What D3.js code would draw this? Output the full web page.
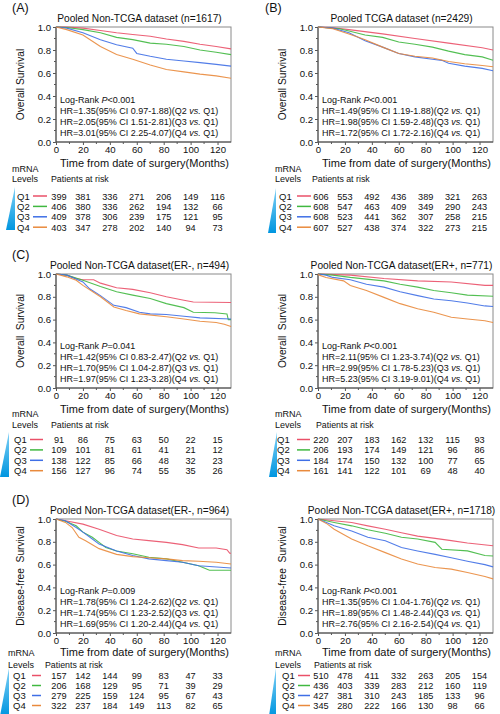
<!DOCTYPE html>
<html><head><meta charset="utf-8">
<script src="https://cdn.jsdelivr.net/npm/d3@7"></script>
<style>
body{margin:0;background:#fff}
svg{display:block}
text{font-family:"Liberation Sans",Arial,Helvetica,sans-serif;fill:#111}
</style>
</head><body>
<svg id="c" width="500" height="714"></svg>
<script>
// ---------- data ----------
const timeTicks = [0,20,40,60,80,100,120];
const survTicks = [0,0.2,0.4,0.6,0.8,1.0];
const groups = ["Q1","Q2","Q3","Q4"];

// Panel A  Pooled Non-TCGA (n=1617)  [months, survival]
const A_Q1 = [[0,1],[8,1.0],[20,0.99],[33,0.97],[45,0.95],[57,0.935],[70,0.92],[82,0.895],[95,0.875],[107,0.85],[119,0.83],[130,0.81]];
const A_Q2 = [[0,1],[8,0.995],[20,0.977],[33,0.95],[45,0.91],[57,0.89],[70,0.86],[82,0.85],[95,0.83],[107,0.80],[119,0.78],[130,0.76]];
const A_Q3 = [[0,1],[8,0.99],[20,0.95],[33,0.89],[45,0.845],[57,0.815],[60,0.77],[70,0.745],[82,0.72],[95,0.705],[107,0.69],[119,0.675],[130,0.66]];
const A_Q4 = [[0,1],[8,0.977],[20,0.93],[33,0.83],[45,0.76],[57,0.72],[70,0.67],[82,0.63],[95,0.61],[107,0.59],[119,0.575],[130,0.555]];
const A_risk_Q1 = [399,381,336,271,206,149,116];
const A_risk_Q2 = [406,380,336,262,194,132,66];
const A_risk_Q3 = [409,378,306,239,175,121,95];
const A_risk_Q4 = [403,347,278,202,140,94,73];
const A_hr = ["1.35","2.05","3.01"];
const A_ci = ["0.97-1.88","1.51-2.81","2.25-4.07"];

// Panel B  Pooled TCGA (n=2429)
const B_Q1 = [[0,1],[10,0.995],[23,0.977],[48,0.94],[72,0.90],[97,0.86],[122,0.82],[130,0.80]];
const B_Q2 = [[0,1],[16,0.985],[23,0.965],[35,0.93],[48,0.91],[60,0.87],[72,0.85],[85,0.825],[97,0.79],[109,0.76],[122,0.74],[130,0.71]];
const B_Q3 = [[0,1],[11,0.99],[23,0.95],[35,0.88],[48,0.825],[60,0.77],[72,0.74],[85,0.72],[92,0.71],[97,0.685],[109,0.66],[122,0.64],[130,0.62]];
const B_Q4 = [[0,1],[11,0.985],[23,0.94],[30,0.91],[35,0.89],[48,0.825],[60,0.77],[72,0.745],[85,0.73],[97,0.70],[109,0.68],[122,0.665],[130,0.655]];
const B_risk_Q1 = [606,553,492,436,389,321,263];
const B_risk_Q2 = [608,547,463,409,349,290,243];
const B_risk_Q3 = [608,523,441,362,307,258,215];
const B_risk_Q4 = [607,527,438,374,322,273,215];
const B_hr = ["1.49","1.98","1.72"];
const B_ci = ["1.19-1.88","1.59-2.48","1.72-2.16"];

// Panel C  ER- (n=494)
const C_Q1 = [[0,1],[8,0.99],[15,0.96],[20,0.95],[28,0.95],[33,0.92],[45,0.88],[57,0.865],[70,0.835],[82,0.80],[95,0.77],[102,0.755],[130,0.75]];
const C_Q2 = [[0,1],[8,0.99],[20,0.945],[33,0.89],[45,0.845],[57,0.815],[70,0.785],[82,0.74],[95,0.705],[102,0.665],[118,0.66],[127,0.65],[128,0.60],[130,0.60]];
const C_Q3 = [[0,1],[8,0.99],[20,0.93],[25,0.87],[33,0.81],[43,0.725],[52,0.705],[62,0.665],[70,0.65],[82,0.645],[95,0.63],[107,0.615],[130,0.605]];
const C_Q4 = [[0,1],[8,0.975],[15,0.945],[20,0.90],[33,0.80],[43,0.71],[52,0.68],[62,0.65],[82,0.625],[95,0.605],[107,0.585],[119,0.575],[125,0.56],[130,0.54]];
const C_risk_Q1 = [91,86,75,63,50,22,15];
const C_risk_Q2 = [109,101,81,61,41,21,12];
const C_risk_Q3 = [138,122,85,66,48,32,23];
const C_risk_Q4 = [156,127,96,74,55,35,26];
const C_hr = ["1.42","1.70","1.97"];
const C_ci = ["0.83-2.47","1.04-2.87","1.23-3.28"];

// Panel C right  ER+ (n=771)
const E_Q1 = [[0,1],[24,0.99],[49,0.96],[74,0.94],[99,0.93],[124,0.90],[130,0.90]];
const E_Q2 = [[0,1],[11,0.99],[24,0.97],[36,0.955],[49,0.94],[61,0.91],[74,0.885],[86,0.855],[99,0.835],[111,0.815],[130,0.805]];
const E_Q3 = [[0,1],[6,0.99],[11,0.97],[24,0.95],[36,0.91],[49,0.885],[61,0.845],[74,0.81],[86,0.78],[99,0.765],[111,0.745],[124,0.72],[130,0.715]];
const E_Q4 = [[0,1],[1,0.99],[6,0.97],[19,0.94],[24,0.90],[36,0.855],[49,0.795],[61,0.74],[74,0.695],[86,0.665],[99,0.62],[111,0.605],[124,0.59],[130,0.575]];
const E_risk_Q1 = [220,207,183,162,132,115,93];
const E_risk_Q2 = [206,193,174,149,121,96,86];
const E_risk_Q3 = [184,174,150,132,100,77,65];
const E_risk_Q4 = [161,141,122,101,69,48,40];
const E_hr = ["2.11","2.99","5.23"];
const E_ci = ["1.23-3.74","1.78-5.23","3.19-9.01"];

// Panel D  DFS ER- (n=964)
const D_Q1 = [[0,1],[7,0.985],[20,0.955],[32,0.91],[45,0.855],[57,0.825],[69,0.81],[82,0.795],[94,0.775],[106,0.745],[119,0.745],[127,0.73],[129,0.70],[130,0.70]];
const D_Q2 = [[0,1],[7,0.98],[15,0.94],[20,0.885],[27,0.84],[32,0.795],[37,0.75],[45,0.72],[57,0.695],[69,0.665],[82,0.65],[94,0.62],[106,0.59],[114,0.55],[130,0.55]];
const D_Q3 = [[0,1],[7,0.985],[15,0.925],[20,0.885],[27,0.825],[32,0.78],[45,0.72],[57,0.68],[69,0.65],[82,0.635],[94,0.62],[106,0.59],[130,0.57]];
const D_Q4 = [[0,1],[7,0.97],[12,0.925],[17,0.84],[22,0.81],[32,0.74],[45,0.69],[57,0.67],[69,0.66],[82,0.65],[94,0.635],[106,0.63],[119,0.62],[130,0.605]];
const D_risk_Q1 = [157,142,144,99,83,47,33];
const D_risk_Q2 = [206,168,129,95,71,39,29];
const D_risk_Q3 = [279,225,159,124,95,67,43];
const D_risk_Q4 = [322,237,184,149,113,82,65];
const D_hr = ["1.78","1.74","1.69"];
const D_ci = ["1.24-2.62","1.23-2.52","1.20-2.44"];

// Panel D right  DFS ER+ (n=1718)
const F_Q1 = [[0,1],[12,0.985],[25,0.97],[37,0.94],[50,0.91],[62,0.88],[74,0.85],[87,0.83],[99,0.81],[111,0.79],[130,0.765]];
const F_Q2 = [[0,1],[12,0.97],[25,0.94],[37,0.905],[50,0.875],[62,0.84],[74,0.825],[87,0.795],[92,0.735],[111,0.72],[124,0.68],[130,0.675]];
const F_Q3 = [[0,1],[12,0.94],[25,0.895],[37,0.84],[50,0.81],[62,0.75],[74,0.72],[87,0.69],[99,0.66],[111,0.63],[124,0.60],[130,0.58]];
const F_Q4 = [[0,1],[7,0.955],[12,0.91],[25,0.825],[37,0.765],[50,0.705],[62,0.65],[74,0.605],[87,0.575],[99,0.56],[111,0.53],[124,0.495],[130,0.475]];
const F_risk_Q1 = [510,478,411,332,263,205,154];
const F_risk_Q2 = [436,403,339,283,212,160,119];
const F_risk_Q3 = [427,381,310,243,185,133,96];
const F_risk_Q4 = [345,280,222,166,130,98,66];
const F_hr = ["1.35","1.89","2.76"];
const F_ci = ["1.04-1.76","1.48-2.44","2.16-2.54"];

// ---------- styling / layout ----------
const colors = ["#ea5068","#40b840","#3f6fe6","#e98a3c"];
const COL = [{x0:56,x1:231,lab:12},{x0:318,x1:493,lab:275}];
const ROW = [
  {y0:27,y1:142,xt:25,mrna:172,lev:182,r0:199.5,rs:10.4},
  {y0:274,y1:388,xt:25,mrna:417,lev:428,r0:443,rs:10.4},
  {y0:519,y1:633,xt:23,mrna:656,lev:668,r0:679,rs:10}
];
const panels = [
  {col:0,row:0,letter:"(A)",title:"Pooled Non-TCGA dataset (n=1617)",ytitle:"Overall Survival",p:"<0.001",curves:[A_Q1,A_Q2,A_Q3,A_Q4],risk:[A_risk_Q1,A_risk_Q2,A_risk_Q3,A_risk_Q4],hr:A_hr,ci:A_ci,tri:[6,15,187,230],qx:17,lx:[33,47],px:51},
  {col:1,row:0,letter:"(B)",title:"Pooled TCGA dataset (n=2429)",ytitle:"Overall Survival",p:"<0.001",curves:[B_Q1,B_Q2,B_Q3,B_Q4],risk:[B_risk_Q1,B_risk_Q2,B_risk_Q3,B_risk_Q4],hr:B_hr,ci:B_ci,tri:[268,276,188,233],qx:279,lx:[297,311],px:312},
  {col:0,row:1,letter:"(C)",title:"Pooled Non-TCGA dataset(ER-, n=494)",ytitle:"Overall  Survival",p:"=0.041",curves:[C_Q1,C_Q2,C_Q3,C_Q4],risk:[C_risk_Q1,C_risk_Q2,C_risk_Q3,C_risk_Q4],hr:C_hr,ci:C_ci,tri:[0,9,432,477],qx:14,lx:[30,43],px:51},
  {col:1,row:1,letter:"",title:"Pooled Non-TCGA dataset(ER+, n=771)",ytitle:"Overall  Survival",p:"<0.001",curves:[E_Q1,E_Q2,E_Q3,E_Q4],risk:[E_risk_Q1,E_risk_Q2,E_risk_Q3,E_risk_Q4],hr:E_hr,ci:E_ci,tri:[269,277,432,477],qx:277,lx:[297,310],px:316},
  {col:0,row:2,letter:"(D)",title:"Pooled Non-TCGA dataset(ER-, n=964)",ytitle:"Disease-free  Survival",p:"=0.009",curves:[D_Q1,D_Q2,D_Q3,D_Q4],risk:[D_risk_Q1,D_risk_Q2,D_risk_Q3,D_risk_Q4],hr:D_hr,ci:D_ci,tri:[0,9,668,716],qx:13,lx:[32,41],px:45},
  {col:1,row:2,letter:"",title:"Pooled Non-TCGA dataset(ER+, n=1718)",ytitle:"Disease-free  Survival",p:"<0.001",curves:[F_Q1,F_Q2,F_Q3,F_Q4],risk:[F_risk_Q1,F_risk_Q2,F_risk_Q3,F_risk_Q4],hr:F_hr,ci:F_ci,tri:[269,276,668,716],qx:282,lx:[298,310],px:314}
];

const svg = d3.select("#c");
const defs = svg.append("defs");
const grad = defs.append("linearGradient").attr("id","tg").attr("x1",0).attr("y1",0).attr("x2",0).attr("y2",1);
grad.append("stop").attr("offset","0%").attr("stop-color","#7fd0f5");
grad.append("stop").attr("offset","100%").attr("stop-color","#0096e0");

panels.forEach(p => {
  const c = COL[p.col], r = ROW[p.row];
  const x = d3.scaleLinear().domain([0,130]).range([c.x0,c.x1]);
  const y = d3.scaleLinear().domain([0,1]).range([r.y1,r.y0]);
  const g = svg.append("g");

  if (p.letter) g.append("text").attr("x", c.lab === 12 ? 12 : 265).attr("y", r.y0 - 15).attr("font-size",12.5).text(p.letter);
  g.append("text").attr("x",(c.x0+c.x1)/2 - 4).attr("y",r.y0-5).attr("text-anchor","middle").attr("font-size",10.2).text(p.title);

  // axes
  const ay = g.append("g").attr("transform",`translate(${c.x0},0)`)
    .call(d3.axisLeft(y).tickValues(survTicks).tickFormat(d3.format(".1f")).tickSize(3).tickPadding(2));
  const ax = g.append("g").attr("transform",`translate(0,${r.y1})`)
    .call(d3.axisBottom(x).tickValues(timeTicks).tickSize(3).tickPadding(1.5));
  [ay,ax].forEach(a => {
    a.select(".domain").remove();
    a.selectAll("text").attr("font-size",9.6).attr("font-family","Liberation Sans, Arial, sans-serif").attr("fill","#111");
    a.selectAll("line").attr("stroke","#555");
  });
  // minor ticks
  g.append("g").selectAll("line").data(d3.range(0.1,1,0.2)).join("line")
    .attr("x1",c.x0-2).attr("x2",c.x0).attr("y1",d=>y(d)).attr("y2",d=>y(d)).attr("stroke","#555");
  g.append("g").selectAll("line").data(d3.range(10,130,20)).join("line")
    .attr("y1",r.y1).attr("y2",r.y1+2).attr("x1",d=>x(d)).attr("x2",d=>x(d)).attr("stroke","#555");

  // frame
  g.append("rect").attr("x",c.x0).attr("y",r.y0).attr("width",c.x1-c.x0).attr("height",r.y1-r.y0)
    .attr("fill","none").attr("stroke","#8a8a8a").attr("stroke-width",1);
  g.append("line").attr("x1",c.x0).attr("x2",c.x0).attr("y1",r.y0).attr("y2",r.y1).attr("stroke","#444");
  g.append("line").attr("x1",c.x0).attr("x2",c.x1).attr("y1",r.y1).attr("y2",r.y1).attr("stroke","#444");

  // curves
  const line = d3.line().x(d=>x(d[0])).y(d=>y(d[1])).curve(d3.curveLinear);
  p.curves.forEach((cv,i) => {
    g.append("path").attr("d",line(cv)).attr("fill","none").attr("stroke",colors[i]).attr("stroke-width",1.1).attr("stroke-opacity",0.9);
  });

  // y title
  const ytx = c.x0 - 32;
  g.append("text").attr("transform",`translate(${ytx},${(r.y0+r.y1)/2}) rotate(-90)`)
    .attr("text-anchor","middle").attr("font-size",10.2).attr("xml:space","preserve").style("white-space","pre").text(p.ytitle);

  // x title
  g.append("text").attr("x",(c.x0+c.x1)/2 + 1).attr("y",r.y1+r.xt).attr("text-anchor","middle").attr("font-size",11).text("Time from date of surgery(Months)");

  // stats
  const sx = c.x0 + 4;
  const t0 = g.append("text").attr("x",sx).attr("y",r.y1-39).attr("font-size",9);
  t0.append("tspan").text("Log-Rank ");
  t0.append("tspan").attr("font-style","italic").text("P");
  t0.append("tspan").text(p.p);
  p.hr.forEach((h,i) => {
    const t = g.append("text").attr("x",sx).attr("y",r.y1-28+11*i).attr("font-size",9);
    t.append("tspan").text(`HR=${h}(95% CI ${p.ci[i]})(Q${i+2} `);
    t.append("tspan").attr("font-style","italic").text("vs.");
    t.append("tspan").text(" Q1)");
  });

  // risk table
  const lx0 = c.lab + (p.row===2 && p.col===0 ? -4 : 0);
  g.append("text").attr("x",lx0).attr("y",r.mrna).attr("font-size",9).text("mRNA");
  g.append("text").attr("x",lx0).attr("y",r.lev).attr("font-size",9).text("Levels");
  g.append("text").attr("x",p.px).attr("y",r.lev).attr("font-size",8.8).text("Patients at risk");
  const t = p.tri;
  g.append("path").attr("d",`M${t[1]},${t[2]}L${t[1]},${t[3]}L${t[0]},${t[3]}Z`).attr("fill","url(#tg)");
  groups.forEach((q,i) => {
    const yy = r.r0 + r.rs*i;
    g.append("text").attr("x",p.qx).attr("y",yy).attr("font-size",9.5).text(q);
    g.append("line").attr("x1",p.lx[0]).attr("x2",p.lx[1]).attr("y1",yy-3.5).attr("y2",yy-3.5).attr("stroke",colors[i]).attr("stroke-width",1.5);
    g.append("g").selectAll("text").data(p.risk[i]).join("text")
      .attr("x",(d,j)=>x(timeTicks[j]) + (j===0?3:0)).attr("y",yy).attr("text-anchor","middle").attr("font-size",9.2).text(d=>d);
  });
});
</script>
</body></html>
